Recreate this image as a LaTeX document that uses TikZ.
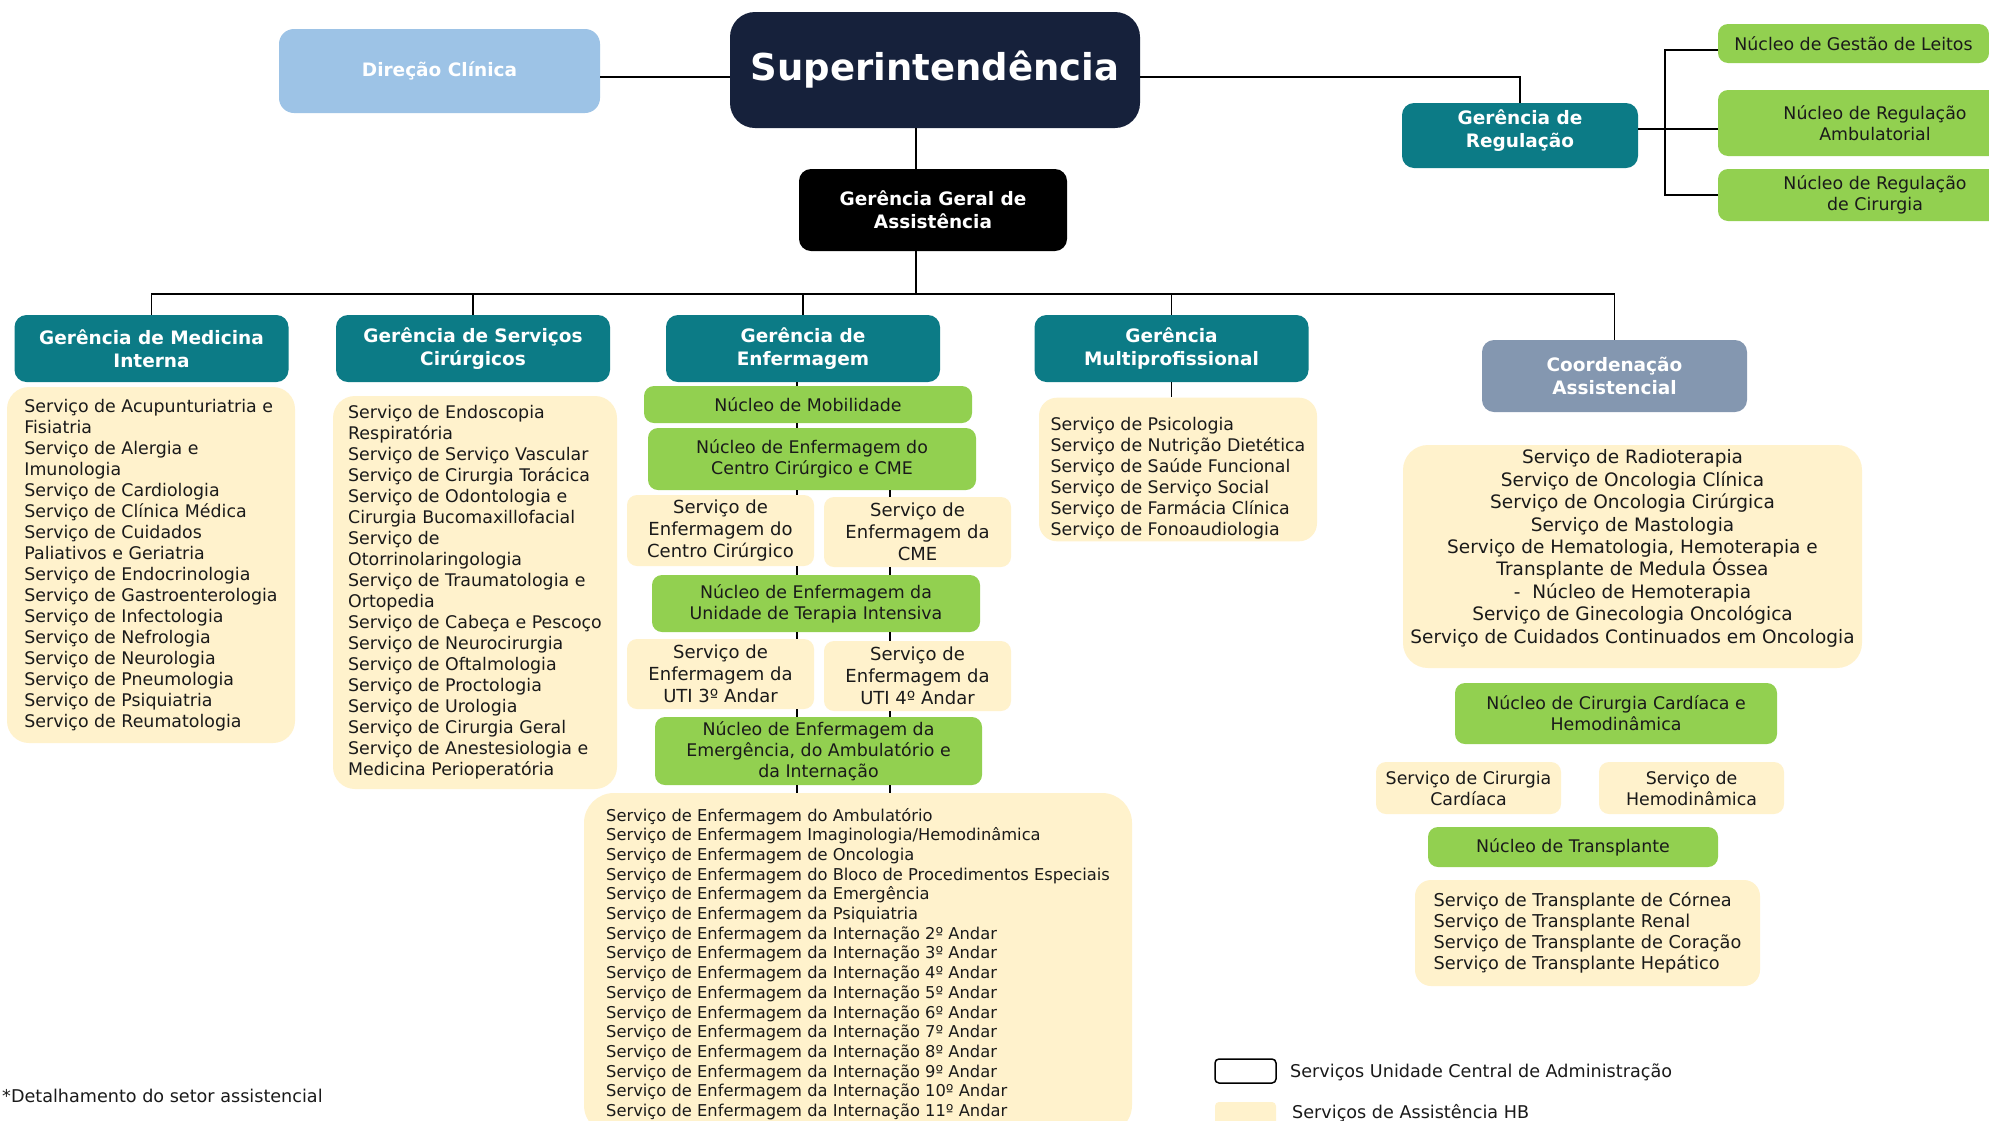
\documentclass[tikz,border=0pt]{standalone}
\usepackage{fontspec}
\setmainfont{DejaVu Sans}

\definecolor{navy}{HTML}{16213B}
\definecolor{skyblue}{HTML}{9DC3E6}
\definecolor{hbteal}{HTML}{0C7B86}
\definecolor{leafgreen}{HTML}{92D050}
\definecolor{cream}{HTML}{FFF2CC}
\definecolor{slate}{HTML}{8497B0}
\definecolor{ink}{HTML}{1A1A1A}

\newcommand{\headfont}{\bfseries\fontsize{18.5}{23}\selectfont}
\newcommand{\listfont}{\fontsize{17.4}{21}\selectfont}
\newcommand{\boxfont}{\fontsize{18}{22}\selectfont}
\newcommand{\longfont}{\fontsize{16.3}{19.7}\selectfont}

\begin{document}
\begin{tikzpicture}[x=1pt, y=-1pt,
    head/.style={rounded corners=12pt, fill=hbteal, text=white, font=\headfont, align=center,
      minimum width=274pt, minimum height=67pt, inner sep=2pt},
    nucleo/.style={rounded corners=10pt, fill=leafgreen, text=ink, font=\listfont, align=center, inner sep=2pt},
    svcbox/.style={rounded corners=10pt, fill=cream, text=ink, font=\boxfont, align=center,
      minimum width=187pt, minimum height=70pt, inner sep=2pt},
    listbox/.style={rounded corners=22pt, fill=cream, text=ink, font=\listfont, align=left, inner sep=2pt},
    link/.style={line width=1.6pt},
    thinlink/.style={line width=1.2pt}]

  \useasboundingbox (0,0) rectangle (1989,1120);
  \clip (0,0) rectangle (1989,1120);
  \fill[white] (0,0) rectangle (1989,1120);

  % Nodes
  \node[rounded corners=25pt, fill=navy, text=white, font=\bfseries\fontsize{37}{44}\selectfont,
    minimum width=410pt, minimum height=116pt] (sup) at (935,70) {Superintendência};
  \node[rounded corners=15pt, fill=skyblue, text=white, font=\headfont,
    minimum width=321pt, minimum height=84pt] (dir) at (439.5,71) {Direção Clínica};
  \node[head, fill=black, minimum width=268pt, minimum height=82pt] (gga) at (933,210) {Gerência Geral de\\ Assistência};

  \node[head, text depth=14pt, minimum width=236pt, minimum height=65pt] (reg) at (1520,135.5) {Gerência de\\ Regulação};
  \node[nucleo, minimum width=271pt, minimum height=39pt] (leitos) at (1853.5,43.5) {Núcleo de Gestão de Leitos};
  \node[nucleo, minimum width=314pt, minimum height=66pt] (ambul) at (1875,123) {Núcleo de Regulação\\ Ambulatorial};
  \node[nucleo, minimum width=314pt, minimum height=52pt] (cirreg) at (1875,195) {Núcleo de Regulação\\ de Cirurgia};

  \foreach \name/\cx/\lbl in {medint/151.5/{Gerência de Medicina\\ Interna},
      cirurg/473/{Gerência de Serviços\\ Cirúrgicos},
      enferm/803/{Gerência de\\ Enfermagem},
      multi/1171.5/{Gerência\\ Multiprofissional}}
    \node[head] (\name) at (\cx,348.5) {\lbl};
  \node[head, fill=slate, minimum width=265pt, minimum height=72pt] (coord) at (1614.5,376) {Coordenação\\ Assistencial};

  \node[listbox, minimum width=288pt, minimum height=356pt] (medlist) at (151,565)
    {Serviço de Acupunturiatria e\\ Fisiatria\\ Serviço de Alergia e\\ Imunologia\\
     Serviço de Cardiologia\\ Serviço de Clínica Médica\\ Serviço de Cuidados\\ Paliativos e Geriatria\\
     Serviço de Endocrinologia\\ Serviço de Gastroenterologia\\ Serviço de Infectologia\\
     Serviço de Nefrologia\\ Serviço de Neurologia\\ Serviço de Pneumologia\\
     Serviço de Psiquiatria\\ Serviço de Reumatologia};
  \node[listbox, minimum width=284pt, minimum height=393pt] (cirlist) at (475,592.5)
    {Serviço de Endoscopia\\ Respiratória\\ Serviço de Serviço Vascular\\ Serviço de Cirurgia Torácica\\
     Serviço de Odontologia e\\ Cirurgia Bucomaxillofacial\\ Serviço de\\ Otorrinolaringologia\\
     Serviço de Traumatologia e\\ Ortopedia\\ Serviço de Cabeça e Pescoço\\ Serviço de Neurocirurgia\\
     Serviço de Oftalmologia\\ Serviço de Proctologia\\ Serviço de Urologia\\
     Serviço de Cirurgia Geral\\ Serviço de Anestesiologia e\\ Medicina Perioperatória};
  \node[listbox, rounded corners=18pt, text height=136pt, minimum width=278pt, minimum height=139pt] (multilist) at (1178,469.5)
    {Serviço de Psicologia\\ Serviço de Nutrição Dietética\\ Serviço de Saúde Funcional\\
     Serviço de Serviço Social\\ Serviço de Farmácia Clínica\\ Serviço de Fonoaudiologia};

  % Enfermagem
  \node[nucleo, minimum width=328pt, minimum height=37pt] (mob) at (808,404.5) {Núcleo de Mobilidade};
  \node[nucleo, minimum width=328pt, minimum height=62pt] (ncc) at (812,459) {Núcleo de Enfermagem do\\ Centro Cirúrgico e CME};
  \node[svcbox, minimum height=71pt] (svccc) at (720.5,530.5) {Serviço de\\ Enfermagem do\\ Centro Cirúrgico};
  \node[svcbox] (svccme) at (917.5,532) {Serviço de\\ Enfermagem da\\ CME};
  \node[nucleo, minimum width=328pt, minimum height=57pt] (nuti) at (816,603.5) {Núcleo de Enfermagem da\\ Unidade de Terapia Intensiva};
  \node[svcbox] (uti3) at (720.5,674) {Serviço de\\ Enfermagem da\\ UTI 3º Andar};
  \node[svcbox] (uti4) at (917.5,676) {Serviço de\\ Enfermagem da\\ UTI 4º Andar};
  \node[nucleo, minimum width=327pt, minimum height=68pt] (nemerg) at (818.5,751)
    {Núcleo de Enfermagem da\\ Emergência, do Ambulatório e\\ da Internação};
  \node[listbox, font=\longfont, rounded corners=30pt, minimum width=548pt, minimum height=342pt] (biglist) at (858,964)
    {Serviço de Enfermagem do Ambulatório\\ Serviço de Enfermagem Imaginologia/Hemodinâmica\\
     Serviço de Enfermagem de Oncologia\\ Serviço de Enfermagem do Bloco de Procedimentos Especiais\\
     Serviço de Enfermagem da Emergência\\ Serviço de Enfermagem da Psiquiatria\\
     Serviço de Enfermagem da Internação 2º Andar\\ Serviço de Enfermagem da Internação 3º Andar\\
     Serviço de Enfermagem da Internação 4º Andar\\ Serviço de Enfermagem da Internação 5º Andar\\
     Serviço de Enfermagem da Internação 6º Andar\\ Serviço de Enfermagem da Internação 7º Andar\\
     Serviço de Enfermagem da Internação 8º Andar\\ Serviço de Enfermagem da Internação 9º Andar\\
     Serviço de Enfermagem da Internação 10º Andar\\ Serviço de Enfermagem da Internação 11º Andar};

  % Coordenação
  \node[listbox, align=center, font=\fontsize{18.5}{22.4}\selectfont, rounded corners=25pt, text depth=20pt,
    minimum width=459pt, minimum height=223pt] (oncolist) at (1632.5,556.5)
    {Serviço de Radioterapia\\ Serviço de Oncologia Clínica\\ Serviço de Oncologia Cirúrgica\\
     Serviço de Mastologia\\ Serviço de Hematologia, Hemoterapia e\\ Transplante de Medula Óssea\\
     -\ \ Núcleo de Hemoterapia\\ Serviço de Ginecologia Oncológica\\ Serviço de Cuidados Continuados em Oncologia};
  \node[nucleo, minimum width=322pt, minimum height=61pt] (nucard) at (1616,713.5) {Núcleo de Cirurgia Cardíaca e\\ Hemodinâmica};
  \node[svcbox, font=\listfont, minimum width=185pt, minimum height=52pt] (svccard) at (1468.5,788) {Serviço de Cirurgia\\ Cardíaca};
  \node[svcbox, font=\listfont, minimum width=185pt, minimum height=52pt] (svchemo) at (1691.5,788) {Serviço de\\ Hemodinâmica};
  \node[nucleo, minimum width=290pt, minimum height=40pt] (nutransp) at (1573,847) {Núcleo de Transplante};
  \node[listbox, font=\fontsize{17.7}{21}\selectfont, rounded corners=16pt, minimum width=345pt, minimum height=106pt] (translist) at (1587.5,933)
    {Serviço de Transplante de Córnea\\ Serviço de Transplante Renal\\
     Serviço de Transplante de Coração\\ Serviço de Transplante Hepático};

  % Legenda
  \node[draw=black, line width=1.5pt, rounded corners=4pt, minimum width=61pt, minimum height=24pt] (legcentral) at (1245.5,1071) {};
  \node[fill=cream, rounded corners=4pt, minimum width=61pt, minimum height=24pt] (legassist) at (1245.5,1114) {};
  \node[anchor=west, text=ink, font=\fontsize{17.6}{21}\selectfont, inner sep=0pt] (legcentraltxt) at (1290,1072) {Serviços Unidade Central de Administração};
  \node[anchor=west, text=ink, font=\fontsize{17.6}{21}\selectfont, inner sep=0pt] (legassisttxt) at (1292,1113) {Serviços de Assistência HB};
  \node[anchor=west, text=ink, font=\fontsize{17.6}{21}\selectfont, inner sep=0pt] (nota) at (2,1096) {*Detalhamento do setor assistencial};

  % Lines
  \coordinate (topline) at (0,77);
  \coordinate (rowA) at (0,50);
  \coordinate (rowB) at (0,129);
  \coordinate (trunk) at (916,294);
  \coordinate (colA) at (797,0);
  \coordinate (colB) at (890,0);
  \coordinate (brk) at (1665,0);

  \draw[link] (dir.east |- topline) -- (sup.west |- topline);
  \draw[link] (sup.east |- topline) -| (reg.north);
  \draw[link] (trunk |- sup.south) -- (trunk |- gga.north);
  \draw[link] (trunk |- gga.south) -- (trunk);
  \draw[link] (medint.north) |- (trunk) -| (coord.north);
  \foreach \n in {cirurg,enferm,multi}
    \draw[link] (\n.north) -- (\n.north |- trunk);
  \draw[link] (leitos.west |- rowA) -| (brk |- cirreg.west) -- (cirreg.west);
  \draw[link] (reg.east |- rowB) -- (ambul.west |- rowB);
  \draw[link] (multi.south) -- (multi.south |- multilist.north);

  \foreach \a/\b in {enferm/mob, mob/ncc, ncc/svccc, svccc/nuti, nuti/uti3, uti3/nemerg, nemerg/biglist}
    \draw[thinlink] (\a.south -| colA) -- (\b.north -| colA);
  \foreach \a/\b in {ncc/svccme, svccme/nuti, nuti/uti4, uti4/nemerg, nemerg/biglist}
    \draw[thinlink] (\a.south -| colB) -- (\b.north -| colB);
\end{tikzpicture}
\end{document}
